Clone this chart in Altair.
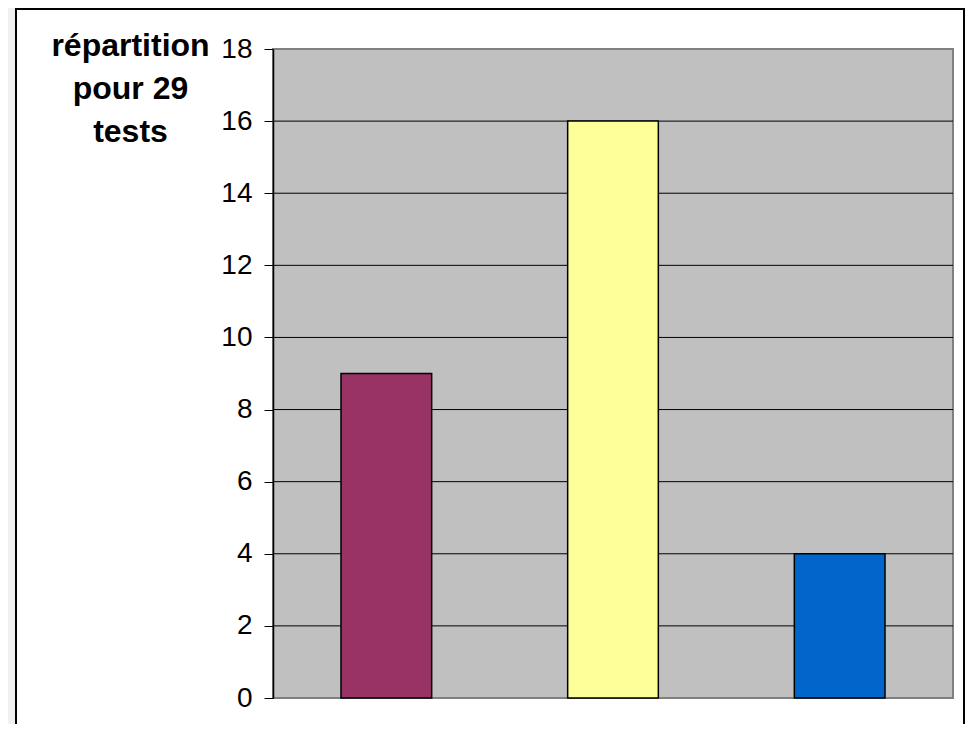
import altair as alt
import pandas as pd

categories = ["catégorie 1", "catégorie 2", "catégorie 3"]
values = [9, 16, 4]
colors = ["#993366", "#FFFF99", "#0066CC"]
y_ticks = [0, 2, 4, 6, 8, 10, 12, 14, 16, 18]
title_lines = ["répartition", "pour 29", "tests"]

W, H = 680, 649

bars_df = pd.DataFrame({"cat": categories, "val": values, "color": colors})
grid_df = pd.DataFrame({"t": y_ticks})
one = pd.DataFrame({"a": [0]})

yscale = alt.Scale(domain=[0, 18], nice=False)

frame = alt.Chart(one).mark_rect(
    fill="white", stroke="black", strokeWidth=2
).encode(
    x=alt.value(-257), x2=alt.value(691), y=alt.value(-40), y2=alt.value(720)
)

plotbg = alt.Chart(one).mark_rect(
    fill="#C0C0C0", stroke="#808080", strokeWidth=2
).encode(
    x=alt.value(0), x2=alt.value(W), y=alt.value(0), y2=alt.value(H)
)

grid = alt.Chart(grid_df).transform_filter("datum.t > 0 && datum.t < 18").mark_rule(
    color="black", strokeWidth=1
).encode(
    y=alt.Y("t:Q", scale=yscale),
    x=alt.value(0), x2=alt.value(W),
)

bars = alt.Chart(bars_df).mark_bar(
    stroke="black", strokeWidth=1.5
).encode(
    x=alt.X("cat:N", sort=categories,
            scale=alt.Scale(paddingInner=0.6, paddingOuter=0.3),
            axis=None),
    y=alt.Y("val:Q", scale=yscale,
            axis=alt.Axis(values=y_ticks, grid=False, domainColor="black",
                          domainWidth=1.5, tickColor="black", tickSize=9,
                          labelFontSize=28, labelFont="Liberation Sans",
                          labelColor="black", labelPadding=12, zindex=1,
                          title=title_lines, titleAngle=0, titleAlign="center",
                          titleBaseline="top", titleX=-143, titleY=-19,
                          titleFont="Liberation Sans", titleFontSize=32,
                          titleFontWeight="bold", titleColor="black",
                          titleLineHeight=43)),
    color=alt.Color("color:N", scale=None),
)

chart = alt.layer(frame, plotbg, grid, bars).properties(
    width=W, height=H,
    padding={"left": 265, "top": 41, "right": 12, "bottom": 26},
    autosize=alt.AutoSizeParams(type="none"),
    background="#F0F0F0",
).configure_view(stroke=None)

chart.save("out.html", embed_options={"renderer": "svg", "actions": False})
